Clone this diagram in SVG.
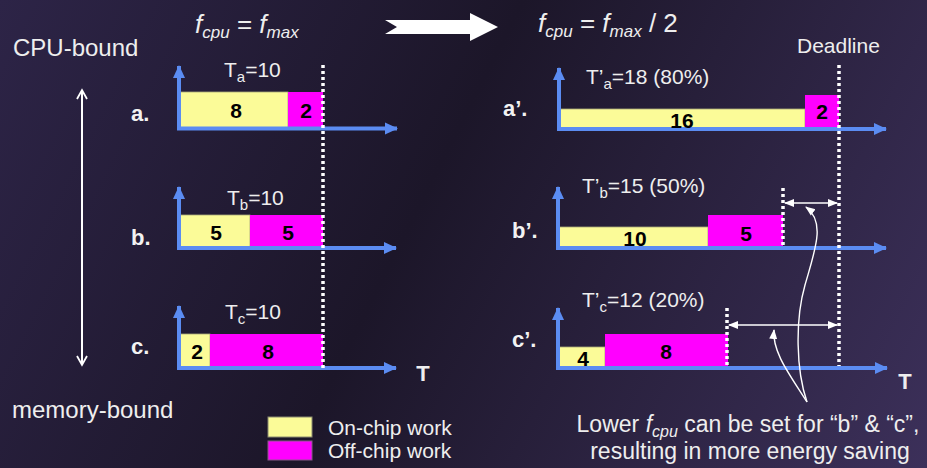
<svg xmlns="http://www.w3.org/2000/svg" width="927" height="468" viewBox="0 0 927 468">
<defs>
<linearGradient id="bg" x1="0" y1="0" x2="927" y2="468" gradientUnits="userSpaceOnUse">
<stop offset="0" stop-color="#2d2447"/>
<stop offset="0.45" stop-color="#1c1629"/>
<stop offset="1" stop-color="#3c305a"/>
</linearGradient>
<marker id="ax" markerUnits="userSpaceOnUse" markerWidth="14" markerHeight="14" refX="12" refY="7" orient="auto">
<path d="M0,1 L13,7 L0,13 Z" fill="#5b8cf2"/>
</marker>
<marker id="wh" markerUnits="userSpaceOnUse" markerWidth="10" markerHeight="10" refX="9" refY="5" orient="auto-start-reverse">
<path d="M0,1 L10,5 L0,9 Z" fill="#ffffff"/>
</marker>
<marker id="wo" markerUnits="userSpaceOnUse" markerWidth="12" markerHeight="12" refX="10" refY="6" orient="auto-start-reverse">
<path d="M1,1 L10,6 L1,11" fill="none" stroke="#ffffff" stroke-width="1.8"/>
</marker>
</defs>
<style>
.t{font-family:"Liberation Sans",Arial,sans-serif;fill:#eeeeee}
.lbl{font-size:24px}
.note{font-size:23px}
.ttl{font-size:21px}
.sub{font-size:15px}
.frm{font-size:26px}
.ab{font-family:"Liberation Sans",Arial,sans-serif;font-weight:bold;font-size:22px;fill:#f2f2f2}
.num{font-family:"Liberation Sans",Arial,sans-serif;font-weight:bold;font-size:21px;fill:#000;text-anchor:middle}
.y{fill:#fbfb98;stroke:#a8a878;stroke-width:0.8}
.m{fill:#ff00ff}
.axis{stroke:#5b8cf2;stroke-width:4;fill:none;marker-end:url(#ax)}
.dl{stroke:#ffffff;stroke-width:3.5;stroke-dasharray:3,3;fill:none}
.thin{stroke:#ffffff;stroke-width:1.4;fill:none}
.f{font-style:italic}
</style>
<rect width="927" height="468" fill="url(#bg)"/>

<g id="headers">
<text class="t lbl" x="13" y="56">CPU-bound</text>
<text class="t lbl" x="12" y="418">memory-bound</text>
<text class="t frm" x="195" y="33"><tspan class="f">f</tspan><tspan class="f" font-size="17" dy="5">cpu</tspan><tspan dy="-5"> = </tspan><tspan class="f">f</tspan><tspan class="f" font-size="17" dy="5">max</tspan></text>
<text class="t frm" x="538" y="32"><tspan class="f">f</tspan><tspan class="f" font-size="17" dy="5">cpu</tspan><tspan dy="-5"> = </tspan><tspan class="f">f</tspan><tspan class="f" font-size="17" dy="5">max</tspan><tspan dy="-5"> / 2</tspan></text>
<text class="t ttl" x="797" y="53">Deadline</text>
<text class="t" x="423" y="381" font-size="22" font-weight="bold" text-anchor="middle">T</text>
<text class="t" x="905" y="389" font-size="22" font-weight="bold" text-anchor="middle">T</text>
</g>

<g id="chart-a">
<rect class="y" x="180" y="92" width="108" height="36"/>
<rect class="m" x="288" y="92" width="35" height="36"/>
<path class="axis" d="M179,130 V66"/>
<path class="axis" d="M177,128.5 H397"/>
<text class="ab" x="131" y="121">a.</text>
<text class="t ttl" x="224" y="77">T<tspan class="sub" dy="5">a</tspan><tspan dy="-5">=10</tspan></text>
<text class="num" x="236" y="118">8</text>
<text class="num" x="306" y="118">2</text>
</g>

<g id="chart-b">
<rect class="y" x="180" y="215" width="70" height="33"/>
<rect class="m" x="250" y="215" width="73" height="33"/>
<path class="axis" d="M179,250 V187"/>
<path class="axis" d="M177,248 H396"/>
<text class="ab" x="131" y="245">b.</text>
<text class="t ttl" x="227" y="205">T<tspan class="sub" dy="5">b</tspan><tspan dy="-5">=10</tspan></text>
<text class="num" x="216" y="240">5</text>
<text class="num" x="288" y="240">5</text>
</g>

<g id="chart-c">
<rect class="y" x="180" y="334" width="30" height="34"/>
<rect class="m" x="210" y="334" width="113" height="34"/>
<path class="axis" d="M179,370 V306"/>
<path class="axis" d="M177,368 H396"/>
<text class="ab" x="131" y="354">c.</text>
<text class="t ttl" x="225" y="319">T<tspan class="sub" dy="5">c</tspan><tspan dy="-5">=10</tspan></text>
<text class="num" x="197" y="359">2</text>
<text class="num" x="268" y="359">8</text>
</g>

<g id="chart-a2">
<rect class="y" x="559" y="109" width="246" height="19"/>
<rect class="m" x="805" y="95" width="34" height="33"/>
<path class="axis" d="M559,131 V68"/>
<path class="axis" d="M557,129 H886"/>
<text class="ab" x="503" y="116">a’.</text>
<text class="t ttl" x="586" y="84">T’<tspan class="sub" dy="5">a</tspan><tspan dy="-5">=18 (80%)</tspan></text>
<text class="num" x="682" y="128">16</text>
<text class="num" x="822" y="119">2</text>
</g>

<g id="chart-b2">
<rect class="y" x="559" y="227" width="149" height="21"/>
<rect class="m" x="708" y="215" width="75" height="33"/>
<path class="dl" d="M783,188 V248"/>
<path class="axis" d="M558,250 V187"/>
<path class="axis" d="M556,248 H886"/>
<text class="ab" x="512" y="238">b’.</text>
<text class="t ttl" x="582" y="193">T’<tspan class="sub" dy="5">b</tspan><tspan dy="-5">=15 (50%)</tspan></text>
<text class="num" x="635" y="246">10</text>
<text class="num" x="746" y="241">5</text>
</g>

<g id="chart-c2">
<rect class="y" x="559" y="347" width="46" height="21"/>
<rect class="m" x="605" y="334" width="123" height="34"/>
<path class="dl" d="M727,308 V368"/>
<path class="axis" d="M558,370 V308"/>
<path class="axis" d="M556,368 H887"/>
<text class="ab" x="512" y="347">c’.</text>
<text class="t ttl" x="582" y="307">T’<tspan class="sub" dy="5">c</tspan><tspan dy="-5">=12 (20%)</tspan></text>
<text class="num" x="583" y="366">4</text>
<text class="num" x="666" y="359">8</text>
</g>

<g id="legend">
<rect x="268" y="417" width="44" height="20" fill="#fbfb98" stroke="#8a8a70" stroke-width="1"/>
<rect x="268" y="441" width="44" height="19" fill="#ff00ff" stroke="#8a5a8a" stroke-width="1"/>
<text class="t ttl" x="328" y="435">On-chip work</text>
<text class="t ttl" x="328" y="458">Off-chip work</text>
</g>

<g id="note">
<text class="t note" x="748" y="432" text-anchor="middle">Lower <tspan class="f">f</tspan><tspan class="f" font-size="16" dy="5">cpu</tspan><tspan dy="-5"> can be set for “b” &amp; “c”,</tspan></text>
<text class="t note" x="750" y="459" text-anchor="middle">resulting in more energy saving</text>
</g>

<g id="connectors">
<path class="dl" d="M323,65 V370"/>
<path class="dl" d="M839,65 V366"/>
<polygon points="385,20 470,20 470,13 498,27 470,41 470,34 385,34 397,27" fill="#ffffff"/>
<path d="M82,365 V90" stroke="#ffffff" stroke-width="2" fill="none" marker-start="url(#wo)" marker-end="url(#wo)"/>
<path class="thin" d="M785,203 H837" marker-start="url(#wh)" marker-end="url(#wh)"/>
<path class="thin" d="M729,325 H837" marker-start="url(#wh)" marker-end="url(#wh)"/>
<path class="thin" d="M807,402 C796,370 795,320 805,285 C815,250 826,222 806,207" marker-end="url(#wh)"/>
<path class="thin" d="M807,402 C790,375 772,352 774,330" marker-end="url(#wh)"/>
</g>
</svg>
